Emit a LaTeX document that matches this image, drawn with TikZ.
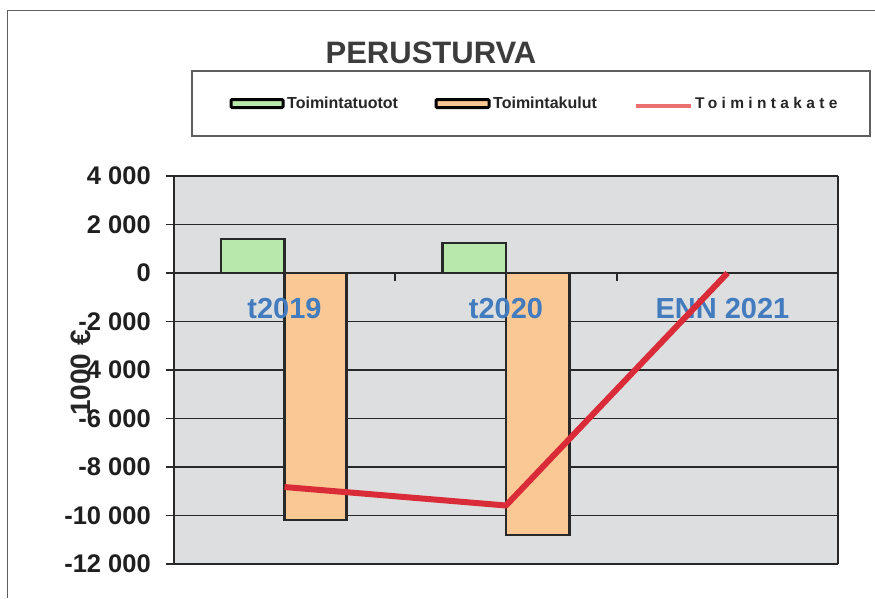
\documentclass[tikz,border=0pt]{standalone}
\usepackage{fontspec}
\setmainfont{Liberation Sans}
\newfontfamily\spacedfont[LetterSpace=28]{Liberation Sans}
\definecolor{plotbg}{RGB}{221,222,224}
\definecolor{barg}{RGB}{184,232,172}
\definecolor{baro}{RGB}{250,200,148}
\definecolor{katered}{RGB}{218,44,56}
\definecolor{legred}{RGB}{236,112,112}
\definecolor{catblue}{RGB}{66,124,190}
\definecolor{titlegray}{RGB}{60,60,60}
\definecolor{framegray}{RGB}{95,95,95}
\definecolor{gridcol}{RGB}{40,40,40}
\tikzset{
  gridline/.style={gridcol, line width=1.8pt},
  axisline/.style={gridcol, line width=2.2pt},
  barbox/.style={draw=gridcol, line width=2.4pt},
  swatch/.style={draw=black, line width=3pt, rounded corners=1pt},
  ticklab/.style={anchor=east, inner sep=0pt, font=\fontsize{25.5}{30}\selectfont\bfseries, text=black!88},
  leglab/.style={anchor=west, inner sep=0pt, font=\fontsize{16}{18}\selectfont\bfseries, text=black!85},
  catlab/.style={inner sep=0pt, font=\fontsize{29}{34}\selectfont\bfseries, text=catblue},
  kateline/.style={katered, line width=6pt, line join=round}
}
\begin{document}
\begin{tikzpicture}[x=1pt,y=-1pt]
\useasboundingbox (0,0) rectangle (875,598);
\fill[white] (0,0) rectangle (875,598);
% outer frame
\draw[framegray, line width=1.6pt] (7.5,598) |- (875,10.5);
% title
\node[inner sep=0pt, font=\fontsize{31}{36}\selectfont\bfseries, text=titlegray] (title) at (431,53) {PERUSTURVA};
% legend
\draw[framegray, line width=1.4pt] (192,71) rectangle (870,136);
\draw[swatch, fill=barg] (231,99.5) rectangle (283,107.5);
\node[leglab] (leg1) at (287,103) {Toimintatuotot};
\draw[swatch, fill=baro] (436,99.5) rectangle (489,107.5);
\node[leglab] (leg2) at (493,103) {Toimintakulut};
\draw[legred, line width=4.5pt] (636,106) -- (691,106);
\node[leglab, font=\fontsize{15.5}{18}\spacedfont\bfseries] (leg3) at (695,103) {Toimintakate};
% plot area
\fill[plotbg] (174,176) rectangle (838,564);
\foreach \y in {176,224.5,273,321.5,370,418.5,467,515.5,564}
  \draw[gridline] (166,\y) -- (838,\y);
\draw[gridline] (838,176) -- (838,564);
\draw[axisline] (174,176) -- (174,564);
% category ticks on zero axis
\foreach \x in {395.3,616.7}
  \draw[gridline] (\x,273) -- (\x,281);
% bars
\draw[barbox, fill=barg] (221,239) rectangle (284.5,273);
\draw[barbox, fill=baro] (284.5,273) rectangle (346.5,520);
\draw[barbox, fill=barg] (442.5,243) rectangle (506,273);
\draw[barbox, fill=baro] (506,273) rectangle (569.5,535);
% tick labels
\foreach \v/\y [count=\i] in {4 000/176, 2 000/224.5, 0/273, -2 000/321.5, -4 000/370, -6 000/418.5, -8 000/467, -10 000/515.5, -12 000/564}
  \node[ticklab] (yl\i) at (151,\y) {\v};
% axis title
\node[rotate=90, inner sep=0pt, font=\fontsize{28}{32}\selectfont\bfseries, text=black!85] (ytitle) at (81,373) {1000 €};
% category labels
\node[catlab] (c1) at (284.5,308.5) {t2019};
\node[catlab] (c2) at (506,308.5) {t2020};
\node[catlab] (c3) at (722.5,308.5) {ENN 2021};
% Toimintakate line
\coordinate (k1) at (284.5,487);
\coordinate (k2) at (506,505.5);
\coordinate (k3) at (727.5,273);
\draw[kateline] (k1) -- (k2) -- (k3);
\end{tikzpicture}
\end{document}
